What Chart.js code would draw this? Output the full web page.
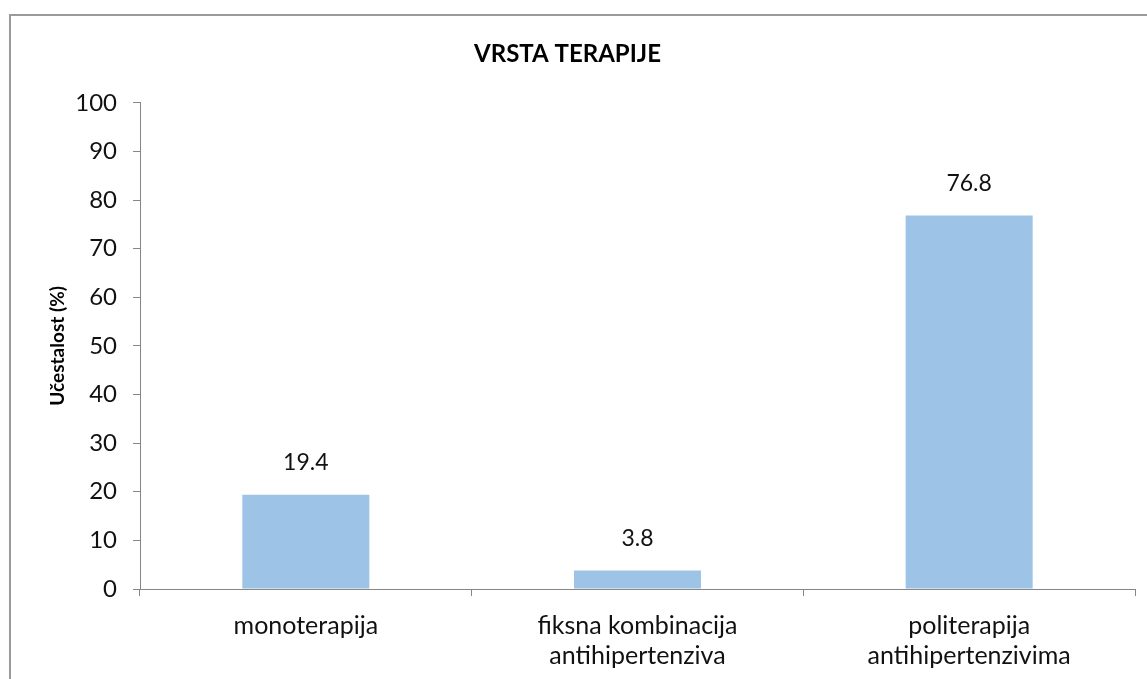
<!DOCTYPE html>
<html>
<head>
<meta charset="utf-8">
<script src="https://cdn.jsdelivr.net/npm/chart.js@4/dist/chart.umd.min.js"></script>
<style>
    html, body { margin: 0; padding: 0; background: #fff; }
    #wrap { position: relative; width: 1147px; height: 679px; }
</style>
</head>
<body>
<div id="wrap"><canvas id="myChart" width="1147" height="679"></canvas></div>
<script>
const categories = [['monoterapija'], ['fiksna kombinacija', 'antihipertenziva'], ['politerapija', 'antihipertenzivima']];
const values = [19.4, 3.8, 76.8];
const yTicks = [0, 10, 20, 30, 40, 50, 60, 70, 80, 90, 100];

const axisColor = '#868686';
const fontFamily = 'Lato, "Open Sans", sans-serif';

// okvir oko grafikona (gore i lijevo)
const framePlugin = {
    id: 'frame',
    beforeDraw(chart) {
        const c = chart.ctx;
        c.save();
        c.strokeStyle = '#9a9a9a';
        c.lineWidth = 2;
        c.beginPath();
        c.moveTo(10, 679);
        c.lineTo(10, 15);
        c.lineTo(1147, 15);
        c.stroke();
        c.restore();
    }
};

// vrijednosti iznad stupaca
const valueLabels = {
    id: 'valueLabels',
    afterDatasetsDraw(chart) {
        const c = chart.ctx;
        c.save();
        c.fillStyle = '#111';
        c.font = '23px ' + fontFamily;
        c.textAlign = 'center';
        c.textBaseline = 'middle';
        chart.getDatasetMeta(0).data.forEach((bar, i) => {
            c.fillText(values[i].toFixed(1), bar.x, bar.y - 32);
        });
        c.restore();
    }
};

const ctx = document.getElementById('myChart').getContext('2d');
const chart = new Chart(ctx, {
    type: 'bar',
    data: {
        labels: categories,
        datasets: [{
            data: values,
            backgroundColor: '#9dc3e6',
            borderWidth: 0,
            categoryPercentage: 1,
            barPercentage: 0.383
        }]
    },
    options: {
        responsive: false,
        animation: false,
        layout: { padding: { left: 0, right: 12, top: 0, bottom: 0 } },
        plugins: {
            legend: { display: false },
            tooltip: { enabled: false },
            title: {
                display: true,
                text: 'VRSTA TERAPIJE',
                color: '#000',
                font: { family: fontFamily, size: 24, weight: 'bold' },
                padding: { top: 40, bottom: 34 }
            }
        },
        scales: {
            x: {
                grid: {
                    offset: true,
                    drawOnChartArea: false,
                    drawTicks: true,
                    tickLength: 7,
                    color: axisColor
                },
                border: { display: true, color: axisColor, width: 1 },
                ticks: {
                    color: '#111',
                    font: { family: fontFamily, size: 25, lineHeight: 1.2 },
                    padding: 15,
                    maxRotation: 0,
                    autoSkip: false
                },
                afterFit(scale) { scale.height = 90; }
            },
            y: {
                min: 0,
                max: 100,
                afterBuildTicks(scale) {
                    scale.ticks = yTicks.map(v => ({ value: v }));
                },
                grid: {
                    drawOnChartArea: false,
                    drawTicks: true,
                    tickLength: 7,
                    color: axisColor
                },
                border: { display: true, color: axisColor, width: 1 },
                ticks: {
                    color: '#111',
                    font: { family: fontFamily, size: 24 },
                    padding: 16
                },
                title: {
                    display: true,
                    text: 'Učestalost (%)',
                    color: '#000',
                    font: { family: fontFamily, size: 19, weight: 'bold' },
                    padding: { top: 46, bottom: 0 }
                },
                afterFit(scale) { scale.width = 140; }
            }
        }
    },
    plugins: [framePlugin, valueLabels]
});
</script>
</body>
</html>
